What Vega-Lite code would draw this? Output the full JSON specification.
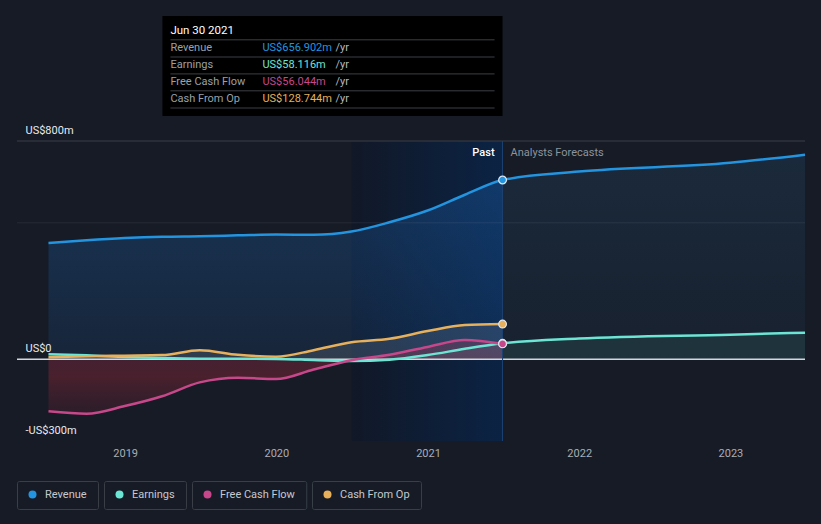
{
  "$schema": "https://vega.github.io/schema/vega-lite/v6.json",
  "autosize": "none",
  "width": 788,
  "height": 300,
  "padding": {"left": 17, "top": 141, "right": 16, "bottom": 83},
  "background": "#161b26",
  "config": {
    "view": {"stroke": null},
    "font": "Roboto",
    "axis": {"domain": false, "ticks": false, "grid": false, "title": null, "labelFont": "Roboto", "labelFontSize": 11}
  },
  "datasets": {
    "fin": [
      {"d": "2018-06-30", "s": "Revenue", "v": 426, "p": "past"},
      {"d": "2018-09-30", "s": "Revenue", "v": 436, "p": "past"},
      {"d": "2018-12-31", "s": "Revenue", "v": 444, "p": "past"},
      {"d": "2019-03-31", "s": "Revenue", "v": 449, "p": "past"},
      {"d": "2019-06-30", "s": "Revenue", "v": 451, "p": "past"},
      {"d": "2019-09-30", "s": "Revenue", "v": 454, "p": "past"},
      {"d": "2019-12-31", "s": "Revenue", "v": 457, "p": "past"},
      {"d": "2020-03-31", "s": "Revenue", "v": 456, "p": "past"},
      {"d": "2020-06-30", "s": "Revenue", "v": 468, "p": "past"},
      {"d": "2020-09-30", "s": "Revenue", "v": 502, "p": "past"},
      {"d": "2020-12-31", "s": "Revenue", "v": 545, "p": "past"},
      {"d": "2021-03-31", "s": "Revenue", "v": 603, "p": "past"},
      {"d": "2021-06-30", "s": "Revenue", "v": 656.902, "p": "past"},
      {"d": "2021-06-30", "s": "Revenue", "v": 656.902, "p": "forecast"},
      {"d": "2021-12-31", "s": "Revenue", "v": 688, "p": "forecast"},
      {"d": "2022-12-31", "s": "Revenue", "v": 720, "p": "forecast"},
      {"d": "2023-06-30", "s": "Revenue", "v": 750, "p": "forecast"},
      {"d": "2018-06-30", "s": "Earnings", "v": 18, "p": "past"},
      {"d": "2018-09-30", "s": "Earnings", "v": 14, "p": "past"},
      {"d": "2018-12-31", "s": "Earnings", "v": 8, "p": "past"},
      {"d": "2019-03-31", "s": "Earnings", "v": 4, "p": "past"},
      {"d": "2019-06-30", "s": "Earnings", "v": 2, "p": "past"},
      {"d": "2019-09-30", "s": "Earnings", "v": 2, "p": "past"},
      {"d": "2019-12-31", "s": "Earnings", "v": 1, "p": "past"},
      {"d": "2020-03-31", "s": "Earnings", "v": -3, "p": "past"},
      {"d": "2020-06-30", "s": "Earnings", "v": -7, "p": "past"},
      {"d": "2020-09-30", "s": "Earnings", "v": -2, "p": "past"},
      {"d": "2020-12-31", "s": "Earnings", "v": 15, "p": "past"},
      {"d": "2021-03-31", "s": "Earnings", "v": 38, "p": "past"},
      {"d": "2021-06-30", "s": "Earnings", "v": 58.116, "p": "past"},
      {"d": "2021-06-30", "s": "Earnings", "v": 58.116, "p": "forecast"},
      {"d": "2021-12-31", "s": "Earnings", "v": 76, "p": "forecast"},
      {"d": "2022-12-31", "s": "Earnings", "v": 90, "p": "forecast"},
      {"d": "2023-06-30", "s": "Earnings", "v": 97, "p": "forecast"},
      {"d": "2018-06-30", "s": "Free Cash Flow", "v": -191, "p": "past"},
      {"d": "2018-09-30", "s": "Free Cash Flow", "v": -200, "p": "past"},
      {"d": "2018-12-31", "s": "Free Cash Flow", "v": -172, "p": "past"},
      {"d": "2019-03-31", "s": "Free Cash Flow", "v": -136, "p": "past"},
      {"d": "2019-06-30", "s": "Free Cash Flow", "v": -85, "p": "past"},
      {"d": "2019-09-30", "s": "Free Cash Flow", "v": -68, "p": "past"},
      {"d": "2019-12-31", "s": "Free Cash Flow", "v": -73, "p": "past"},
      {"d": "2020-03-31", "s": "Free Cash Flow", "v": -38, "p": "past"},
      {"d": "2020-06-30", "s": "Free Cash Flow", "v": -4, "p": "past"},
      {"d": "2020-09-30", "s": "Free Cash Flow", "v": 16, "p": "past"},
      {"d": "2020-12-31", "s": "Free Cash Flow", "v": 45, "p": "past"},
      {"d": "2021-03-31", "s": "Free Cash Flow", "v": 70, "p": "past"},
      {"d": "2021-06-30", "s": "Free Cash Flow", "v": 56.044, "p": "past"},
      {"d": "2018-06-30", "s": "Cash From Op", "v": 7, "p": "past"},
      {"d": "2018-09-30", "s": "Cash From Op", "v": 11, "p": "past"},
      {"d": "2018-12-31", "s": "Cash From Op", "v": 13, "p": "past"},
      {"d": "2019-03-31", "s": "Cash From Op", "v": 15, "p": "past"},
      {"d": "2019-06-30", "s": "Cash From Op", "v": 33, "p": "past"},
      {"d": "2019-09-30", "s": "Cash From Op", "v": 16, "p": "past"},
      {"d": "2019-12-31", "s": "Cash From Op", "v": 9, "p": "past"},
      {"d": "2020-03-31", "s": "Cash From Op", "v": 33, "p": "past"},
      {"d": "2020-06-30", "s": "Cash From Op", "v": 62, "p": "past"},
      {"d": "2020-09-30", "s": "Cash From Op", "v": 75, "p": "past"},
      {"d": "2020-12-31", "s": "Cash From Op", "v": 103, "p": "past"},
      {"d": "2021-03-31", "s": "Cash From Op", "v": 125, "p": "past"},
      {"d": "2021-06-30", "s": "Cash From Op", "v": 128.744, "p": "past"}
    ],
    "tip": [
      {"s": "Revenue", "label": "Revenue", "val": "US$656.902m", "ty": 1141},
      {"s": "Earnings", "label": "Earnings", "val": "US$58.116m", "ty": 1079},
      {"s": "Free Cash Flow", "label": "Free Cash Flow", "val": "US$56.044m", "ty": 1016},
      {"s": "Cash From Op", "label": "Cash From Op", "val": "US$128.744m", "ty": 954}
    ],
    "seps": [{"ty": 1171}, {"ty": 1108}, {"ty": 1046}, {"ty": 984}, {"ty": 921}]
  },
  "layer": [
    {
      "data": {"values": [{"a": 1}]},
      "mark": {"type": "rect", "fill": {"gradient": "linear", "x1": 0, "y1": 0, "x2": 1, "y2": 0, "stops": [{"offset": 0, "color": "#111827"}, {"offset": 1, "color": "#0b2344"}]}},
      "encoding": {
        "x": {"datum": {"year": 2020, "month": 6, "date": 30}, "type": "temporal",
          "scale": {"domain": [{"year": 2018, "month": 4, "date": 15}, {"year": 2023, "month": 6, "date": 30}]},
          "axis": {"format": "%Y", "tickCount": "year", "labelColor": "#a9aeb5", "labelPadding": 6}},
        "x2": {"datum": {"year": 2021, "month": 6, "date": 30}},
        "y": {"datum": 800, "type": "quantitative",
          "scale": {"domain": [-300, 800], "nice": false, "zero": false},
          "axis": {"values": [-300, 0, 800], "labelAlign": "left", "labelPadding": -8, "tickSize": 0, "labelBaseline": "alphabetic", "labelOffset": -7.5, "labelColor": "#e8eaed", "zindex": 1,
            "labelExpr": "datum.value == 0 ? 'US$0' : (datum.value < 0 ? '-US$' + abs(datum.value) + 'm' : 'US$' + datum.value + 'm')"}},
        "y2": {"datum": -300}
      }
    },
    {
      "data": {"name": "fin"},
      "transform": [{"filter": "datum.s == 'Revenue' && datum.p == 'past'"}],
      "mark": {"type": "area", "interpolate": "monotone", "fill": {"gradient": "linear", "x1": 0, "y1": 0, "x2": 0, "y2": 1, "stops": [{"offset": 0, "color": "rgba(30,110,195,0.30)"}, {"offset": 1, "color": "rgba(30,110,195,0.12)"}]}},
      "encoding": {
        "x": {"field": "d", "type": "temporal"},
        "y": {"field": "v", "type": "quantitative"},
        "y2": {"datum": 0}
      }
    },
    {
      "data": {"name": "fin"},
      "transform": [{"filter": "datum.s == 'Revenue' && datum.p == 'forecast'"}],
      "mark": {"type": "area", "interpolate": "monotone", "fill": {"gradient": "linear", "x1": 0, "y1": 0, "x2": 0, "y2": 1, "stops": [{"offset": 0, "color": "rgba(45,100,145,0.20)"}, {"offset": 1, "color": "rgba(45,100,145,0.08)"}]}},
      "encoding": {
        "x": {"field": "d", "type": "temporal"},
        "y": {"field": "v", "type": "quantitative"},
        "y2": {"datum": 0}
      }
    },
    {
      "data": {"name": "fin"},
      "transform": [{"filter": "datum.s == 'Cash From Op'"}],
      "mark": {"type": "area", "interpolate": "monotone", "fill": "rgba(200,205,215,0.14)"},
      "encoding": {
        "x": {"field": "d", "type": "temporal"},
        "y": {"field": "v", "type": "quantitative"},
        "y2": {"datum": 0}
      }
    },
    {
      "data": {"name": "fin"},
      "transform": [{"filter": "datum.s == 'Earnings' && (datum.p == 'past' || time(toDate(datum.d)) > time(toDate('2021-07-15')))"}],
      "mark": {"type": "area", "interpolate": "monotone", "fill": "rgba(110,231,214,0.09)"},
      "encoding": {
        "x": {"field": "d", "type": "temporal"},
        "y": {"field": "v", "type": "quantitative"},
        "y2": {"datum": 0}
      }
    },
    {
      "data": {"name": "fin"},
      "transform": [{"filter": "datum.s == 'Free Cash Flow'"}],
      "mark": {"type": "area", "interpolate": "monotone", "fill": {"gradient": "linear", "x1": 0, "y1": 0, "x2": 0, "y2": 1, "stops": [{"offset": 0, "color": "rgba(190,50,90,0.22)"}, {"offset": 0.5, "color": "rgba(150,40,55,0.40)"}, {"offset": 1, "color": "rgba(120,35,55,0.22)"}]}},
      "encoding": {
        "x": {"field": "d", "type": "temporal"},
        "y": {"field": "v", "type": "quantitative"},
        "y2": {"datum": 0}
      }
    },
    {
      "data": {"values": [{"g": 800}]},
      "mark": {"type": "rule", "stroke": "#3a3f48", "strokeWidth": 1},
      "encoding": {"y": {"field": "g", "type": "quantitative"}}
    },
    {
      "data": {"values": [{"g": 500}]},
      "mark": {"type": "rule", "stroke": "rgba(255,255,255,0.07)", "strokeWidth": 1},
      "encoding": {"y": {"field": "g", "type": "quantitative"}}
    },
    {
      "data": {"values": [{"z": 0}]},
      "mark": {"type": "rule", "stroke": "#d4d7db", "strokeWidth": 1.5},
      "encoding": {"y": {"field": "z", "type": "quantitative"}}
    },
    {
      "data": {"values": [{"a": 1}]},
      "mark": {"type": "rule", "stroke": "#1d4272", "strokeWidth": 1},
      "encoding": {
        "x": {"datum": {"year": 2021, "month": 6, "date": 30}, "type": "temporal"},
        "y": {"datum": 800, "type": "quantitative"},
        "y2": {"datum": -300}
      }
    },
    {
      "data": {"name": "fin"},
      "transform": [{"filter": "datum.p == 'past' || time(toDate(datum.d)) > time(toDate('2021-07-15'))"}],
      "mark": {"type": "line", "interpolate": "monotone", "strokeWidth": 2.5},
      "encoding": {
        "x": {"field": "d", "type": "temporal"},
        "y": {"field": "v", "type": "quantitative"},
        "detail": {"field": "s"},
        "color": {"field": "s", "type": "nominal",
          "scale": {"domain": ["Revenue", "Earnings", "Free Cash Flow", "Cash From Op"], "range": ["#2394df", "#6ce5d5", "#c6478a", "#e7b05d"]},
          "legend": {"title": null, "orient": "none", "legendX": 0, "legendY": 340, "direction": "horizontal",
            "symbolType": "circle", "symbolSize": 64, "symbolStrokeWidth": 0, "labelFont": "Roboto", "labelFontSize": 11, "labelColor": "#c5c9ce",
            "columnPadding": 5, "labelOffset": 8, "padding": 0,
            "encode": {
              "entries": {"update": {"stroke": {"value": "#3a3f47"}, "strokeWidth": {"value": 1}, "cornerRadius": {"value": 2}}},
              "symbols": {"update": {"fill": {"scale": "color", "field": "value"}, "strokeWidth": {"value": 0}, "x": {"value": 15.5}, "y": {"value": 13.5}}},
              "labels": {"update": {"x": {"value": 28}, "y": {"value": 4.5}, "baseline": {"value": "middle"}, "lineHeight": {"value": 9}, "text": {"signal": "['\u200b', datum.label + '    \u200b', '\u200b']"}}}
            }}
        }
      }
    },
    {
      "data": {"name": "fin"},
      "transform": [{"filter": "datum.p == 'past' && time(toDate(datum.d)) > time(toDate('2021-06-01'))"}],
      "mark": {"type": "point", "filled": true, "size": 60, "stroke": "#dfe6ee", "strokeWidth": 1.2, "opacity": 1},
      "encoding": {
        "x": {"field": "d", "type": "temporal"},
        "y": {"field": "v", "type": "quantitative"},
        "color": {"field": "s", "type": "nominal"}
      }
    },
    {
      "data": {"values": [{"t": "Past"}]},
      "mark": {"type": "text", "align": "right", "baseline": "middle", "dx": -8, "fontSize": 11, "fill": "#ffffff", "fontWeight": 500},
      "encoding": {
        "x": {"datum": {"year": 2021, "month": 6, "date": 30}, "type": "temporal"},
        "y": {"datum": 755, "type": "quantitative"},
        "text": {"field": "t"}
      }
    },
    {
      "data": {"values": [{"t": "Analysts Forecasts"}]},
      "mark": {"type": "text", "align": "left", "baseline": "middle", "dx": 8, "fontSize": 11, "fill": "#8d939b"},
      "encoding": {
        "x": {"datum": {"year": 2021, "month": 6, "date": 30}, "type": "temporal"},
        "y": {"datum": 755, "type": "quantitative"},
        "text": {"field": "t"}
      }
    },
    {
      "data": {"values": [{"a": 1}]},
      "mark": {"type": "rect", "fill": "#000000"},
      "encoding": {
        "x": {"datum": {"year": 2019, "month": 4, "date": 1}, "type": "temporal"},
        "x2": {"datum": {"year": 2021, "month": 6, "date": 30}},
        "y": {"datum": 1258, "type": "quantitative"},
        "y2": {"datum": 892}
      }
    },
    {
      "data": {"name": "seps"},
      "mark": {"type": "rule", "stroke": "#3c3f44", "strokeWidth": 1, "xOffset": 8, "x2Offset": -8},
      "encoding": {
        "x": {"datum": {"year": 2019, "month": 4, "date": 1}, "type": "temporal"},
        "x2": {"datum": {"year": 2021, "month": 6, "date": 30}},
        "y": {"field": "ty", "type": "quantitative"}
      }
    },
    {
      "data": {"values": [{"t": "Jun 30 2021"}]},
      "mark": {"type": "text", "align": "left", "baseline": "middle", "dx": 8, "fontSize": 11.5, "fill": "#ffffff"},
      "encoding": {
        "x": {"datum": {"year": 2019, "month": 4, "date": 1}, "type": "temporal"},
        "y": {"datum": 1203, "type": "quantitative"},
        "text": {"field": "t"}
      }
    },
    {
      "data": {"name": "tip"},
      "mark": {"type": "text", "align": "left", "baseline": "middle", "dx": 8, "fontSize": 11, "fill": "#9aa0a7"},
      "encoding": {
        "x": {"datum": {"year": 2019, "month": 4, "date": 1}, "type": "temporal"},
        "y": {"field": "ty", "type": "quantitative"},
        "text": {"field": "label"}
      }
    },
    {
      "data": {"name": "tip"},
      "mark": {"type": "text", "align": "left", "baseline": "middle", "dx": 100, "fontSize": 11},
      "encoding": {
        "x": {"datum": {"year": 2019, "month": 4, "date": 1}, "type": "temporal"},
        "y": {"field": "ty", "type": "quantitative"},
        "text": {"field": "val"},
        "color": {"field": "s", "type": "nominal"}
      }
    },
    {
      "data": {"name": "tip"},
      "mark": {"type": "text", "align": "left", "baseline": "middle", "dx": 173, "fontSize": 11, "fill": "#b5b9bf", "text": "/yr"},
      "encoding": {
        "x": {"datum": {"year": 2019, "month": 4, "date": 1}, "type": "temporal"},
        "y": {"field": "ty", "type": "quantitative"}
      }
    }
  ]
}
